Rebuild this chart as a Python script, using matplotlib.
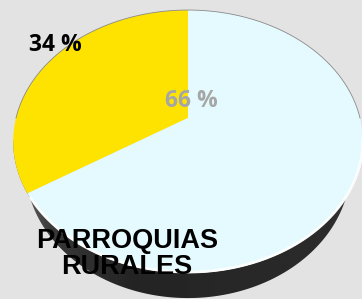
import numpy as np
import matplotlib.pyplot as plt
from matplotlib.patches import Polygon

# datos del grafico
etiquetas = ['34 %', '66 %']
valores = [34, 66]
colores = ['#FFE300', '#E4FAFE']
color_etiquetas = ['black', '#A6A6A6']
categoria = 'PARROQUIAS\nRURALES'

# vista en perspectiva del disco (coordenadas en pixeles)
cx, cy = 188, 118
sx, sy = 172, 127.3
k = 0.179
grosor = 25
escala_base = 0.93


def proyectar(u, v, esc=1.0, dy=0.0):
    d = 1 + k * v
    return cx + esc * sx * u / d, cy - sy * v / d + dy


fig = plt.figure(figsize=(3.62, 2.99), dpi=100)
fig.patch.set_facecolor('#E3E3E3')
ax = fig.add_axes([0, 0, 1, 1])

cunas, _ = ax.pie(valores, colors=colores, startangle=90, counterclock=True,
                  wedgeprops=dict(linewidth=0))

ax.set_aspect('auto')
ax.set_xlim(0, 362)
ax.set_ylim(299, 0)
ax.axis('off')

# lateral oscuro del disco
t = np.radians(np.linspace(180, 360, 200))
xs, ys = proyectar(np.cos(t), np.sin(t))
xb, yb = proyectar(np.cos(t), np.sin(t), escala_base, grosor)
lado = np.vstack([np.column_stack([xs, ys]),
                  np.column_stack([xb[::-1], yb[::-1]])])
clip = Polygon(lado, closed=True, facecolor='none', edgecolor='none')
ax.add_patch(clip)
grad = np.interp(np.linspace(0, 1, 300), [0, 0.12, 0.35, 0.9, 1],
                 [0.45, 0.22, 0.14, 0.17, 0.25])
img = ax.imshow(np.tile(grad, (2, 1)), cmap='gray', vmin=0, vmax=1,
                extent=(10, 364, 299, 140), aspect='auto', zorder=1)
img.set_clip_path(clip)

# caras superiores a partir de las cunas del pie
for w in cunas:
    th = np.radians(np.linspace(w.theta1, w.theta2, 200))
    u = np.concatenate([[0], w.r * np.cos(th)])
    v = np.concatenate([[0], w.r * np.sin(th)])
    px, py = proyectar(u, v)
    w.set_visible(False)
    ax.add_patch(Polygon(np.column_stack([px, py]), closed=True,
                         facecolor=w.get_facecolor(), edgecolor='none', zorder=2))

# bordes
t1 = np.radians(np.linspace(0, 180, 200))
bx, by = proyectar(np.cos(t1), np.sin(t1))
ax.plot(bx, by, color='#8a8a8a', lw=0.6, zorder=3)
t2 = np.radians(np.linspace(215, 350, 200))
bx, by = proyectar(np.cos(t2), np.sin(t2))
ax.plot(bx, by - 1, color='white', lw=2, alpha=0.9, zorder=3)

# etiquetas
ax.text(55, 45, etiquetas[0], color=color_etiquetas[0], fontsize=16.5,
        fontweight='bold', family='Open Sans', ha='center', va='center', zorder=4)
ax.text(191, 101, etiquetas[1], color=color_etiquetas[1], fontsize=16.5,
        fontweight='bold', family='Open Sans', ha='center', va='center', zorder=4)
ax.text(127, 254, categoria, color='black', fontsize=19.5, fontweight='bold',
        family='Liberation Sans', ha='center', va='center', linespacing=1.0,
        zorder=4)

plt.savefig('out.png', dpi=100, facecolor=fig.get_facecolor())
